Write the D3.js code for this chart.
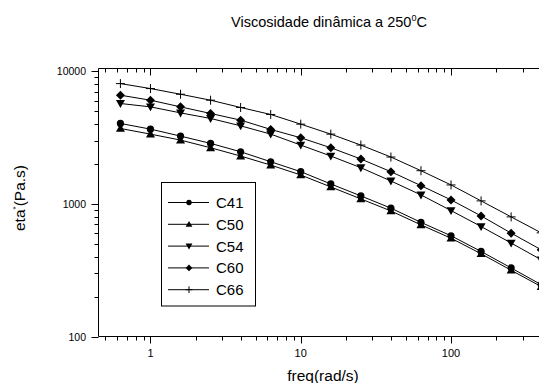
<!DOCTYPE html>
<html>
<head>
<meta charset="utf-8">
<script src="https://cdn.jsdelivr.net/npm/d3@7"></script>
<style>
  body { margin: 0; background: #fff; }
  svg { display: block; font-family: Arial, "Liberation Sans", sans-serif; }
  .line { fill: none; stroke: #000; stroke-width: 1; }
</style>
</head>
<body>
<div id="chart"></div>
<script>
// frequencies (rad/s)
var freq = [0.631, 1, 1.585, 2.512, 3.981, 6.31, 10, 15.85, 25.12, 39.81, 63.1, 100, 158.5, 251.2, 398.1];

// eta* (Pa.s) per sample
var c41 = [4044, 3664, 3246, 2860, 2473, 2080, 1750, 1414, 1149, 929, 726, 575, 438, 329, 246];
var c50 = [3707, 3360, 3029, 2651, 2296, 1963, 1652, 1343, 1091, 885, 695, 551, 421, 316, 238];
var c54 = [5718, 5393, 4858, 4409, 3880, 3360, 2778, 2296, 1875, 1489, 1169, 891, 675, 507, 379];
var c60 = [6603, 6055, 5393, 4808, 4283, 3646, 3152, 2651, 2180, 1750, 1373, 1072, 812, 602, 451];
var c66 = [8080, 7410, 6715, 6055, 5335, 4725, 3995, 3360, 2778, 2256, 1780, 1390, 1054, 798, 605];

var seriesNames = ['C41', 'C50', 'C54', 'C60', 'C66'];
var seriesValues = [c41, c50, c54, c60, c66];

var xTicks = [1, 10, 100];
var yTicks = [100, 1000, 10000];

var W = 539, H = 383;
var plotL = 98.5, plotR = 539, plotT = 68.5, plotB = 336.5;

var svg = d3.select('#chart').append('svg')
    .attr('width', W)
    .attr('height', H);

var x = d3.scaleLog().domain([0.451, 385]).range([plotL, plotR]);
var y = d3.scaleLog().domain([100, 10500]).range([plotB, plotT]);

// minor tick values
var xMinor = [];
[0.1, 1, 10, 100].forEach(function(d) {
    for (var k = 2; k <= 9; k++) {
        var v = d * k;
        if (v >= 0.451 && v <= 385) xMinor.push(v);
    }
});
var yMinor = [];
[100, 1000].forEach(function(d) {
    for (var k = 2; k <= 9; k++) yMinor.push(d * k);
});

var axisG = svg.append('g').attr('stroke', '#000').attr('stroke-width', 1);

function px(v) { return Math.round(x(v)) + 0.5; }
function py(v) { return Math.round(y(v)) + 0.5; }

// bottom axis
axisG.append('line').attr('x1', plotL).attr('x2', plotR).attr('y1', plotB).attr('y2', plotB);
xMinor.forEach(function(v) {
    axisG.append('line').attr('x1', px(v)).attr('x2', px(v)).attr('y1', plotB).attr('y2', plotB + 4);
});
xTicks.forEach(function(v) {
    axisG.append('line').attr('x1', px(v)).attr('x2', px(v)).attr('y1', plotB).attr('y2', plotB + 7);
});

// top axis (mirror, ticks inward)
axisG.append('line').attr('x1', plotL).attr('x2', plotR).attr('y1', plotT).attr('y2', plotT);
xMinor.forEach(function(v) {
    axisG.append('line').attr('x1', px(v)).attr('x2', px(v)).attr('y1', plotT).attr('y2', plotT + 4);
});
xTicks.forEach(function(v) {
    axisG.append('line').attr('x1', px(v)).attr('x2', px(v)).attr('y1', plotT).attr('y2', plotT + 7);
});

// left axis
axisG.append('line').attr('x1', plotL).attr('x2', plotL).attr('y1', plotT).attr('y2', plotB);
yMinor.forEach(function(v) {
    axisG.append('line').attr('y1', py(v)).attr('y2', py(v)).attr('x1', plotL - 4).attr('x2', plotL);
});
yTicks.forEach(function(v) {
    axisG.append('line').attr('y1', py(v)).attr('y2', py(v)).attr('x1', plotL - 7).attr('x2', plotL);
});

// tick labels
svg.selectAll('.xlab').data(xTicks).enter().append('text')
    .attr('x', function(d) { return x(d); })
    .attr('y', 357)
    .attr('text-anchor', 'middle')
    .style('font-size', '11px')
    .text(function(d) { return d; });

svg.selectAll('.ylab').data(yTicks).enter().append('text')
    .attr('x', 86)
    .attr('y', function(d) { return y(d) + 4; })
    .attr('text-anchor', 'end')
    .style('font-size', '10.5px')
    .text(function(d) { return d; });

// axis titles
svg.append('text')
    .attr('x', 323).attr('y', 381)
    .attr('text-anchor', 'middle')
    .style('font-size', '15.5px')
    .text('freq(rad/s)');

var yt = svg.append('text')
    .attr('transform', 'translate(25,198) rotate(-90)')
    .attr('text-anchor', 'middle')
    .style('font-size', '15.5px');
yt.append('tspan').text('eta');
yt.append('tspan').attr('dy', -7).style('font-size', '8px').text('*');
yt.append('tspan').attr('dy', 7).text('(Pa.s)');

// chart title
var tt = svg.append('text')
    .attr('x', 329).attr('y', 27)
    .attr('text-anchor', 'middle')
    .style('font-size', '14.5px');
tt.append('tspan').text('Viscosidade dinâmica a 250');
tt.append('tspan').attr('dy', -6).style('font-size', '9px').text('0');
tt.append('tspan').attr('dy', 6).text('C');

// marker drawing
function drawMarker(g, i, cx, cy, s) {
    if (i === 0) {
        g.append('circle').attr('cx', cx).attr('cy', cy).attr('r', 3.6 * s).attr('fill', '#000');
    } else if (i === 1) {
        var a = 4.5 * s;
        g.append('path').attr('d', 'M' + cx + ',' + (cy - a) + 'L' + (cx + a) + ',' + (cy + a * 0.75) + 'L' + (cx - a) + ',' + (cy + a * 0.75) + 'Z').attr('fill', '#000');
    } else if (i === 2) {
        var b = 4.5 * s;
        g.append('path').attr('d', 'M' + cx + ',' + (cy + b) + 'L' + (cx + b) + ',' + (cy - b * 0.75) + 'L' + (cx - b) + ',' + (cy - b * 0.75) + 'Z').attr('fill', '#000');
    } else if (i === 3) {
        var c = 4.5 * s;
        g.append('path').attr('d', 'M' + cx + ',' + (cy - c) + 'L' + (cx + c) + ',' + cy + 'L' + cx + ',' + (cy + c) + 'L' + (cx - c) + ',' + cy + 'Z').attr('fill', '#000');
    } else {
        var p = 4.5 * s;
        g.append('path').attr('d', 'M' + (cx - p) + ',' + cy + 'H' + (cx + p) + 'M' + cx + ',' + (cy - p) + 'V' + (cy + p))
            .attr('stroke', '#000').attr('stroke-width', 1).attr('fill', 'none');
    }
}

var line = d3.line()
    .x(function(d) { return x(d[0]); })
    .y(function(d) { return y(d[1]); });

seriesValues.forEach(function(vals, i) {
    var pts = freq.map(function(f, j) { return [f, vals[j]]; });
    svg.append('path').attr('class', 'line').attr('d', line(pts));
    var g = svg.append('g');
    pts.forEach(function(p) { drawMarker(g, i, x(p[0]), y(p[1]), 1); });
});

// legend
var lg = svg.append('g');
lg.append('rect')
    .attr('x', 161.5).attr('y', 182.5).attr('width', 94).attr('height', 123.5)
    .attr('fill', '#fff').attr('stroke', '#000').attr('stroke-width', 1);
seriesNames.forEach(function(name, i) {
    var ry = 202.5 + i * 21.8;
    lg.append('line').attr('x1', 168).attr('x2', 209).attr('y1', ry).attr('y2', ry)
        .attr('stroke', '#000').attr('stroke-width', 1);
    drawMarker(lg, i, 189, ry, 0.75);
    lg.append('text').attr('x', 216).attr('y', ry + 5.5)
        .style('font-size', '15px')
        .text(name);
});
</script>
</body>
</html>
